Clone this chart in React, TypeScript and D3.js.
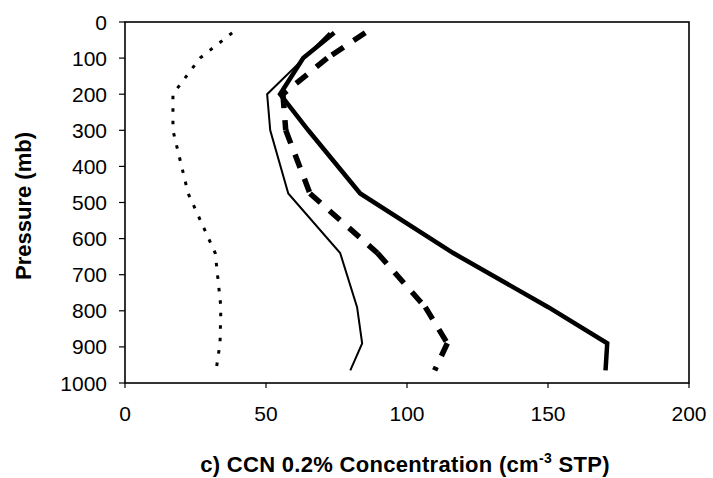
import React, { useEffect } from 'react';
import * as d3 from 'd3';

// Mean pressure of each sampled layer (mb)
const pressureLevels = [30, 100, 200, 300, 475, 640, 790, 890, 965];

// CCN 0.2% concentration profiles (cm^-3 STP)
const ccnDotted = [38, 26.6, 17, 17, 22.4, 32, 34, 33.7, 32.3];
const ccnThin = [72.5, 63.5, 50.4, 51.5, 57.9, 76.3, 82.3, 84.1, 79.9];
const ccnThick = [74.2, 63.2, 55, 65, 83.4, 116.4, 150.1, 171, 170.4];
const ccnDashed = [85.2, 71.7, 56, 57, 65.6, 89.5, 106.5, 114.3, 109.8];

const xTicks = [0, 50, 100, 150, 200];
const yTicks = [0, 100, 200, 300, 400, 500, 600, 700, 800, 900, 1000];

const W = 713;
const H = 478;
const plot = { left: 125, right: 689, top: 22, bottom: 383 };
const FONT = 'Liberation Sans, Arial, Helvetica, sans-serif';

type Pt = [number, number];

export default function App() {
  useEffect(() => {
    document.body.style.margin = '0';
  }, []);

  const x = d3.scaleLinear().domain([0, 200]).range([plot.left, plot.right]);
  const y = d3.scaleLinear().domain([0, 1000]).range([plot.top, plot.bottom]);

  const toPts = (vals: number[]): Pt[] => vals.map((v, i) => [x(v), y(pressureLevels[i])]);
  const line = d3.line<Pt>().x((d) => d[0]).y((d) => d[1]);

  // dashed series: the dash pattern restarts on every segment
  const dashedPts = toPts(ccnDashed);
  const dashedSegs = d3.pairs(dashedPts);

  return (
    <svg width={W} height={H} style={{ display: 'block', background: '#fff' }}>
      {/* plot frame */}
      <rect
        x={plot.left}
        y={plot.top}
        width={plot.right - plot.left}
        height={plot.bottom - plot.top}
        fill="none"
        stroke="#000"
        strokeWidth={1.6}
      />

      {/* y axis ticks and labels */}
      {yTicks.map((t) => (
        <g key={`y${t}`}>
          <line x1={plot.left - 6} x2={plot.left} y1={y(t)} y2={y(t)} stroke="#000" strokeWidth={1.2} />
          <text
            x={plot.left - 18}
            y={y(t)}
            dy="0.36em"
            textAnchor="end"
            fontFamily={FONT}
            fontSize={21}
            fill="#000"
          >
            {t}
          </text>
        </g>
      ))}

      {/* x axis ticks and labels */}
      {xTicks.map((t) => (
        <g key={`x${t}`}>
          <line x1={x(t)} x2={x(t)} y1={plot.bottom} y2={plot.bottom + 5} stroke="#000" strokeWidth={1.2} />
          <text
            x={x(t)}
            y={421}
            textAnchor="middle"
            fontFamily={FONT}
            fontSize={21}
            fill="#000"
          >
            {t}
          </text>
        </g>
      ))}

      {/* profiles */}
      <path
        d={line(toPts(ccnDotted)) ?? ''}
        fill="none"
        stroke="#000"
        strokeWidth={3}
        strokeDasharray="3.5 9"
      />
      <path d={line(toPts(ccnThin)) ?? ''} fill="none" stroke="#000" strokeWidth={2} strokeLinejoin="miter" />
      <path d={line(toPts(ccnThick)) ?? ''} fill="none" stroke="#000" strokeWidth={4.5} strokeLinejoin="miter" />
      {dashedSegs.map(([a, b], i) => (
        <path
          key={`d${i}`}
          d={line([a, b]) ?? ''}
          fill="none"
          stroke="#000"
          strokeWidth={5.5}
          strokeDasharray="14 12"
        />
      ))}

      {/* axis titles */}
      <text
        x={405}
        y={472}
        textAnchor="middle"
        fontFamily={FONT}
        fontWeight="bold"
        fontSize={22}
        letterSpacing={0.3}
        fill="#000"
      >
        c) CCN 0.2% Concentration (cm
        <tspan dy={-9} fontSize={14}>-3</tspan>
        <tspan dy={9}> STP)</tspan>
      </text>
      <text
        transform={`translate(31, ${206}) rotate(-90)`}
        textAnchor="middle"
        fontFamily={FONT}
        fontWeight="bold"
        fontSize={22}
        fill="#000"
      >
        Pressure (mb)
      </text>
    </svg>
  );
}
